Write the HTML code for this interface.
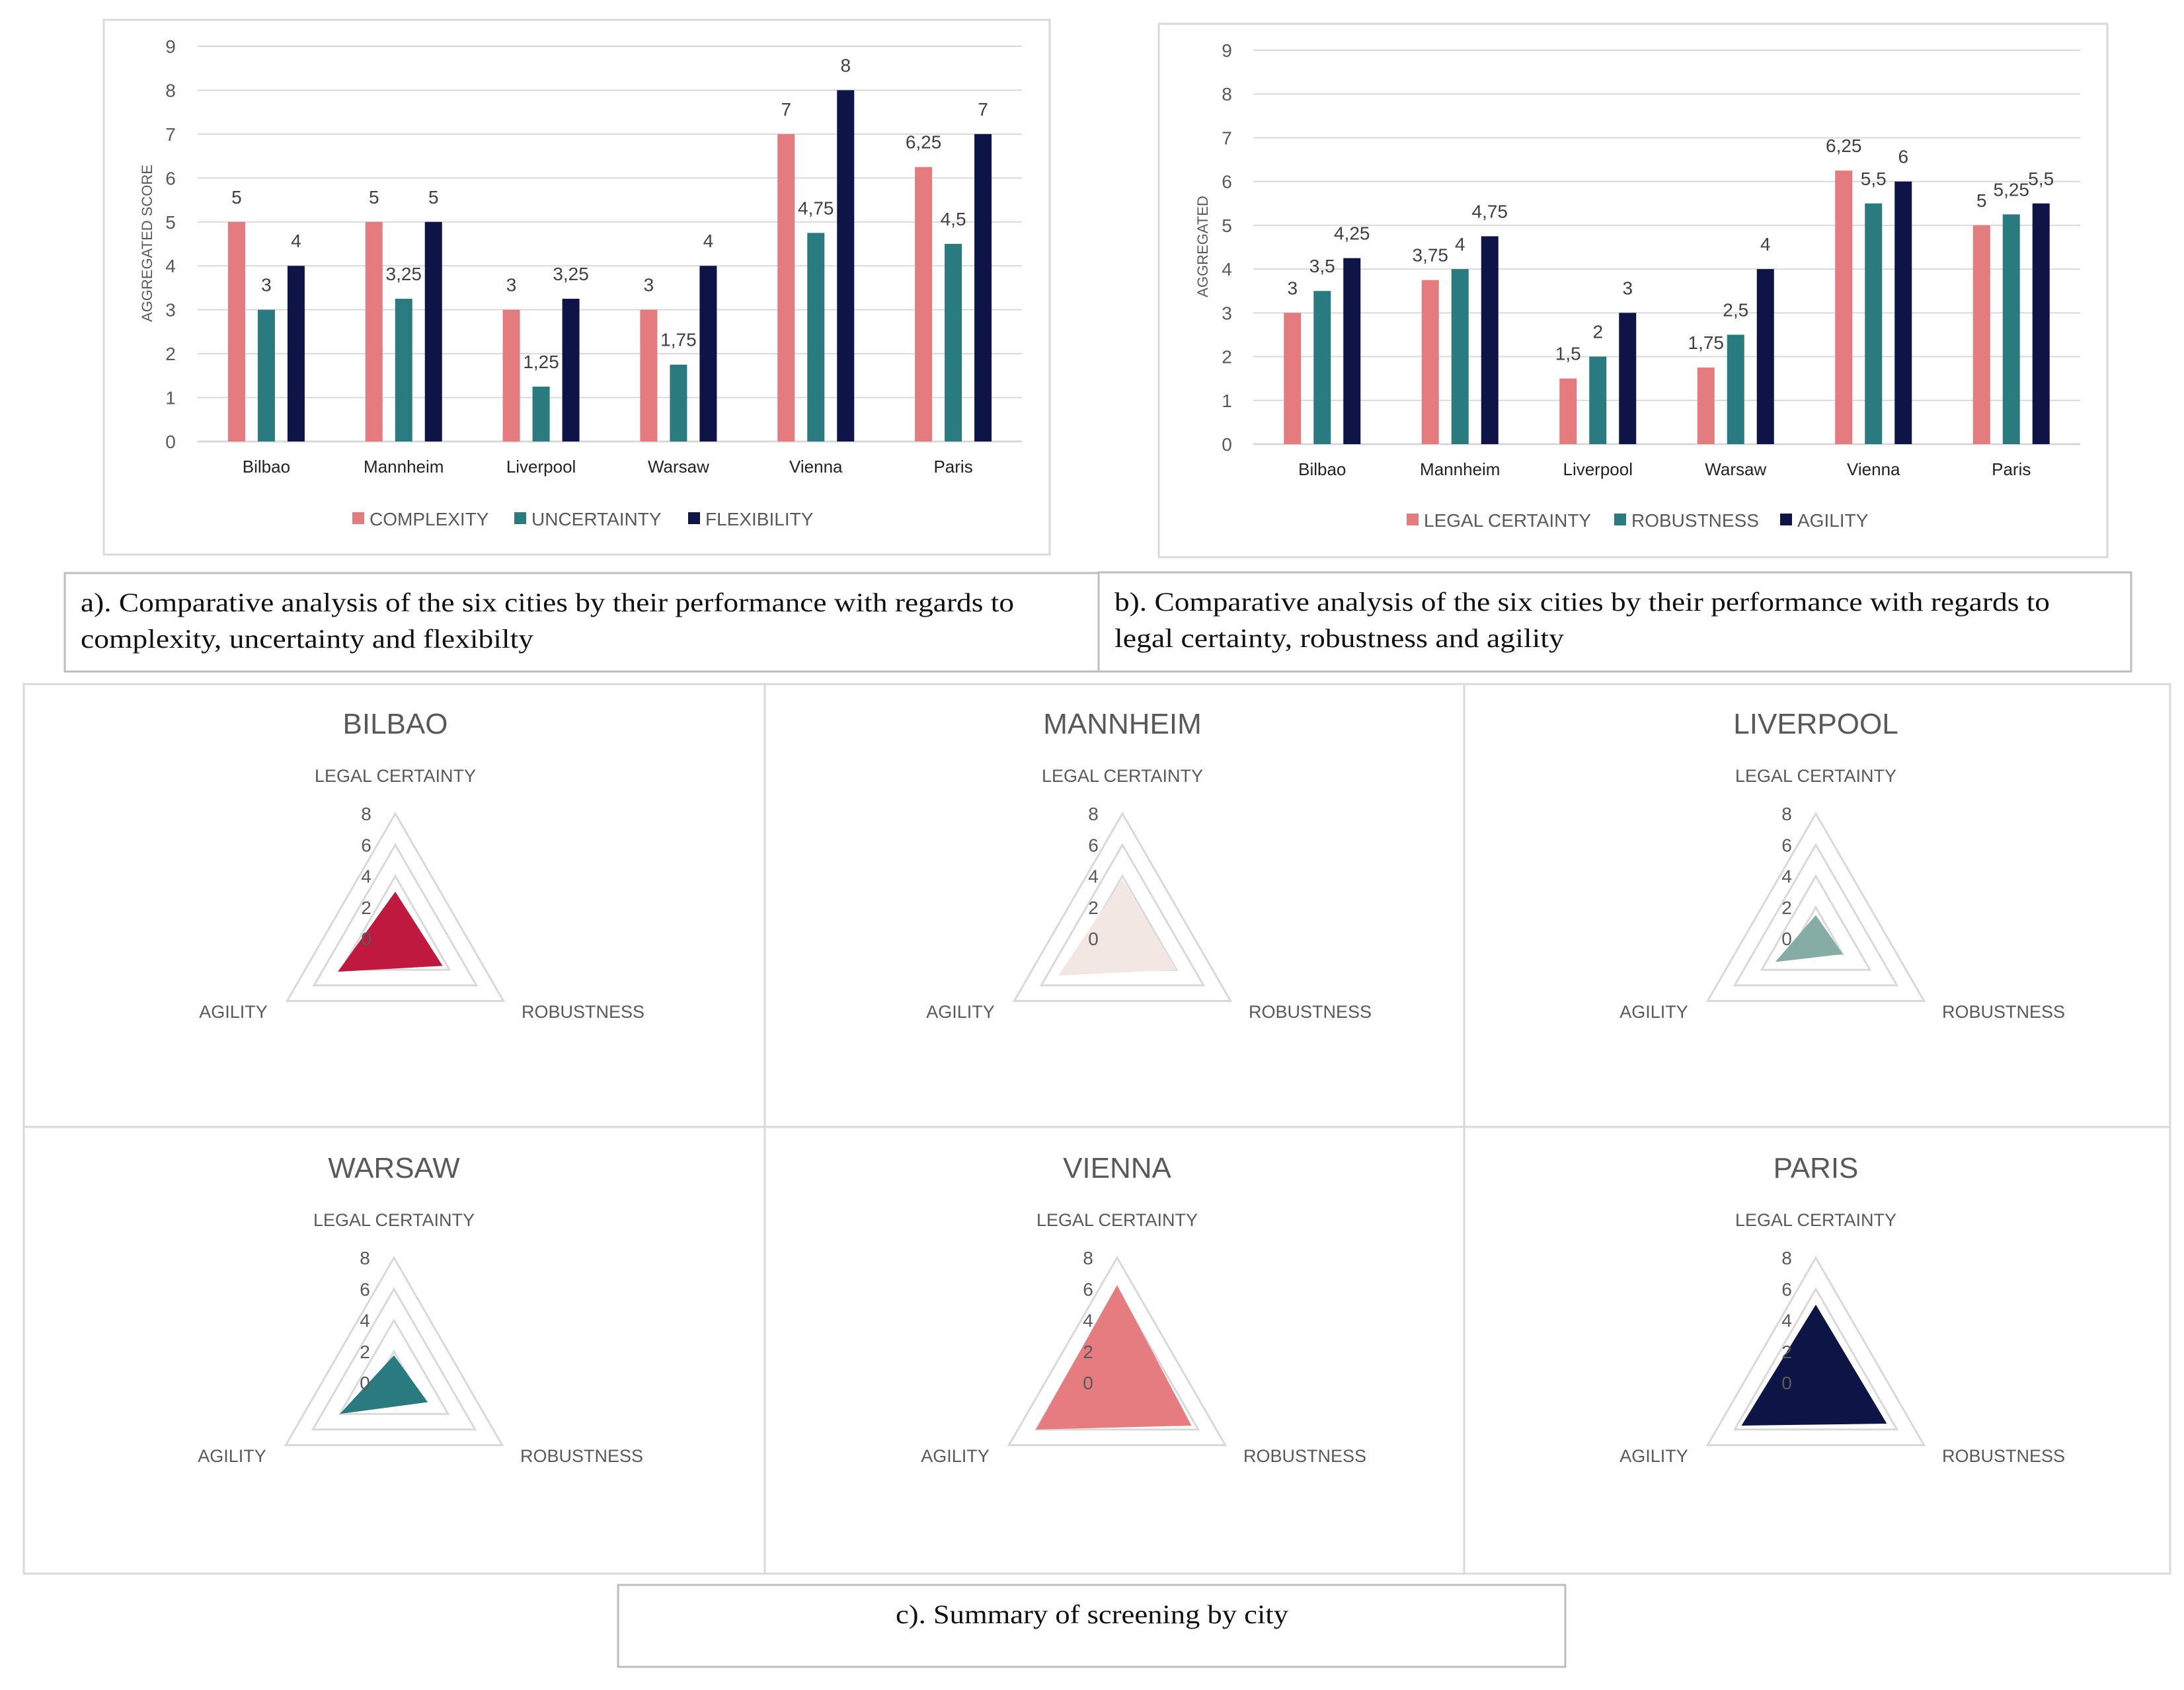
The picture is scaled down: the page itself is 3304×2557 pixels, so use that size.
<!DOCTYPE html>
<html><head><meta charset="utf-8">
<style>
html,body{margin:0;padding:0;background:#fff;}
svg{display:block;}
text{font-family:"Liberation Sans",sans-serif;}
.serif{font-family:"Liberation Serif",serif;}
</style></head>
<body>
<svg id="root" width="3304" height="2557" viewBox="0 0 3304 2557" xmlns="http://www.w3.org/2000/svg">
  <rect x="0" y="0" width="3304" height="2557" fill="#fff"/>
  <rect x="157" y="30" width="1431" height="809" fill="#fff" stroke="#d9d9d9" stroke-width="3"/>
  <rect x="1753" y="36" width="1435" height="807" fill="#fff" stroke="#d9d9d9" stroke-width="3"/>
  <rect x="98" y="867" width="1564" height="149" fill="#fff" stroke="#bdbdbd" stroke-width="3"/>
  <rect x="1662" y="866" width="1562" height="150" fill="#fff" stroke="#bdbdbd" stroke-width="3"/>
  <text class="serif" x="122" y="925" font-size="40" fill="#111" textLength="1412" lengthAdjust="spacingAndGlyphs">a). Comparative analysis of the six cities by their performance with regards to</text>
  <text class="serif" x="122" y="980" font-size="40" fill="#111" textLength="685" lengthAdjust="spacingAndGlyphs">complexity, uncertainty and flexibilty</text>
  <text class="serif" x="1686" y="924" font-size="40" fill="#111" textLength="1415" lengthAdjust="spacingAndGlyphs">b). Comparative analysis of the six cities by their performance with regards to</text>
  <text class="serif" x="1686" y="979" font-size="40" fill="#111" textLength="680" lengthAdjust="spacingAndGlyphs">legal certainty, robustness and agility</text>
  <rect x="36" y="1035" width="3247" height="1346" fill="#fff" stroke="#d9d9d9" stroke-width="3"/>
  <line x1="1157" y1="1035" x2="1157" y2="2381" stroke="#d9d9d9" stroke-width="3"/>
  <line x1="2215" y1="1035" x2="2215" y2="2381" stroke="#d9d9d9" stroke-width="3"/>
  <line x1="36" y1="1705" x2="3283" y2="1705" stroke="#d9d9d9" stroke-width="3"/>
  <rect x="935" y="2398" width="1433" height="124" fill="#fff" stroke="#bdbdbd" stroke-width="3"/>
  <text class="serif" x="1355" y="2456" font-size="40" fill="#111" textLength="594" lengthAdjust="spacingAndGlyphs">c). Summary of screening by city</text>
  <g id="layer"></g>
</svg>
<script>
const cities = ["Bilbao","Mannheim","Liverpool","Warsaw","Vienna","Paris"];
const complexity = [5,5,3,3,7,6.25];
const uncertainty = [3,3.25,1.25,1.75,4.75,4.5];
const flexibility = [4,5,3.25,4,8,7];
const legalCertainty = [3,3.75,1.5,1.75,6.25,5];
const robustness = [3.5,4,2,2.5,5.5,5.25];
const agility = [4.25,4.75,3,4,6,5.5];
const yTicks = [0,1,2,3,4,5,6,7,8,9];
const radarTicks = [0,2,4,6,8];
const radarColors = ["#C0193F","#F2E7E2","#86ADA5","#2A7B80","#E57C80","#0D1446"];
const barColors = ["#E47C7F","#2A7B80","#0E1446"];

const NS = "http://www.w3.org/2000/svg";
const layer = document.getElementById("layer");
function mk(tag, attrs, txt){
  const e = document.createElementNS(NS, tag);
  for (const k in attrs) e.setAttribute(k, attrs[k]);
  if (txt !== undefined) e.textContent = txt;
  layer.appendChild(e);
  return e;
}
function fmt(v){ return String(v).replace(".", ","); }

function barChart(cfg){
  const x0 = cfg.x0, x1 = cfg.x1, yTop = cfg.yTop, yBot = cfg.yBot;
  const yScale = v => yBot - (v/9)*(yBot-yTop);
  const bw = (x1-x0)/cities.length;
  const xCenter = i => x0 + bw*(i+0.5);
  yTicks.forEach(t => {
    const ln = mk("line",{x1:x0,x2:x1,y1:yScale(t),y2:yScale(t),stroke:"#d9d9d9","stroke-width":t===0?3:2});
    
    
    const tx = mk("text",{x:cfg.tickX,y:yScale(t)+10,"text-anchor":"middle","font-size":28,fill:"#595959"},String(t));
    
    
  });
  const yt = mk("text",{x:0,y:0,"text-anchor":"middle","font-size":22,fill:"#595959",transform:`translate(${cfg.titleX},${cfg.titleY}) rotate(-90)`},cfg.yTitle);
  
  
  cities.forEach((c,i) => {
    const cl = mk("text",{x:xCenter(i),y:yBot+47,"text-anchor":"middle","font-size":26,fill:"#222"},c);
    
    
    cfg.series.forEach((s,k) => {
      const v = s[i];
      const cx = xCenter(i) + (k-1)*45;
      const r = mk("rect",{x:cx-13,y:yScale(v),width:26,height:yBot-yScale(v),fill:barColors[k]});
      
      
      const vl = mk("text",{x:cx,y:yScale(v)-28,"text-anchor":"middle","font-size":28,fill:"#404040"},fmt(v));
      
      
    });
  });
  cfg.names.forEach((n,k) => {
    const sq = mk("rect",{x:cfg.legendX[k],y:cfg.legendY-11,width:18,height:18,fill:barColors[k]});
    
    
    const lt = mk("text",{x:cfg.legendX[k]+26,y:cfg.legendY+9,"font-size":28,fill:"#595959"},n);
    
    
  });
}
barChart({x0:299,x1:1546,yTop:70,yBot:668,tickX:258,titleX:230,titleY:368,yTitle:"AGGREGATED SCORE",
  series:[complexity,uncertainty,flexibility],names:["COMPLEXITY","UNCERTAINTY","FLEXIBILITY"],
  legendX:[533,778,1041],legendY:786});
barChart({x0:1896,x1:3147,yTop:76,yBot:672,tickX:1856,titleX:1827,titleY:373,yTitle:"AGGREGATED",
  series:[legalCertainty,robustness,agility],names:["LEGAL CERTAINTY","ROBUSTNESS","AGILITY"],
  legendX:[2128,2442,2693],legendY:788});

const panelCx = [598,1698,2747,596,1690,2747];
const panelTop = [0,0,0,672,672,672];
const R = 189;
cities.forEach((c,i) => {
  const cx = panelCx[i], cy = 1420 + panelTop[i];
  const pt = (ang, r) => [cx + r*Math.sin(ang), cy - r*Math.cos(ang)];
  const angs = [0, 2*Math.PI/3, 4*Math.PI/3];
  radarTicks.forEach(t => {
    if (t === 0) return;
    const rr = R*t/8;
    const pts = angs.map(a => pt(a, rr).join(",")).join(" ");
    const g = mk("polygon",{points:pts,fill:"none",stroke:"#d9d9d9","stroke-width":3});
    
    
  });
  const vals = [legalCertainty[i], robustness[i], agility[i]];
  const dpts = angs.map((a,k) => pt(a, R*vals[k]/8).join(",")).join(" ");
  const poly = mk("polygon",{points:dpts,fill:radarColors[i]});
  
  
  radarTicks.forEach(t => {
    const tl = mk("text",{x:cx-44,y:cy - R*t/8 + 10,"text-anchor":"middle","font-size":28,fill:"#595959"},String(t));
    
    
  });
  const title = mk("text",{x:cx,y:cy-310,"text-anchor":"middle","font-size":44,fill:"#595959"},c.toUpperCase());
  
  
  const l1 = mk("text",{x:cx,y:cy-237,"text-anchor":"middle","font-size":27,fill:"#595959"},"LEGAL CERTAINTY");
  
  
  const l2 = mk("text",{x:cx+284,y:cy+120,"text-anchor":"middle","font-size":27,fill:"#595959"},"ROBUSTNESS");
  
  
  const l3 = mk("text",{x:cx-245,y:cy+120,"text-anchor":"middle","font-size":27,fill:"#595959"},"AGILITY");
  
  
});
</script>
</body></html>
